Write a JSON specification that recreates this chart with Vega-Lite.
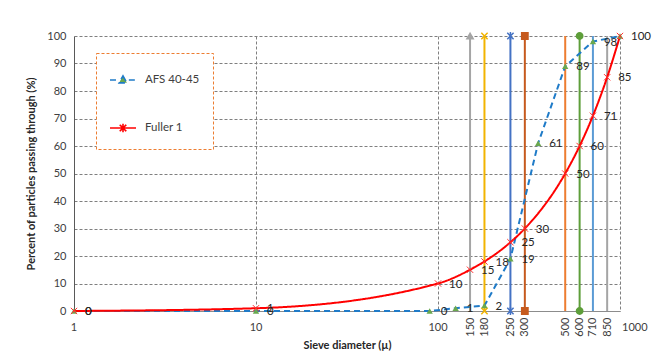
{
  "$schema": "https://vega.github.io/schema/vega-lite/v6.json",
  "width": 546,
  "height": 275,
  "autosize": {"type": "none"},
  "padding": {"left": 74, "top": 36, "right": 32, "bottom": 47},
  "background": "white",
  "config": {
    "font": "Lato",
    "view": {"stroke": null},
    "axis": {"labelFontSize": 11, "labelColor": "#404040", "titleColor": "#262626", "titleFontSize": 11, "titleFontWeight": "bold", "ticks": false},
    "legend": {
      "orient": "none", "legendX": 22, "legendY": 17, "padding": 13,
      "strokeColor": "#ED7D31", "fillColor": "white",
      "rowPadding": 27, "symbolSize": 676, "symbolStrokeWidth": 2,
      "labelFontSize": 11.5, "labelColor": "#404040", "labelOffset": 8
    }
  },
  "datasets": {
    "curves": [
      {"series": "AFS 40-45", "d": 1, "p": 0},
      {"series": "AFS 40-45", "d": 10, "p": 0},
      {"series": "AFS 40-45", "d": 90, "p": 0},
      {"series": "AFS 40-45", "d": 125, "p": 1},
      {"series": "AFS 40-45", "d": 180, "p": 2},
      {"series": "AFS 40-45", "d": 250, "p": 19},
      {"series": "AFS 40-45", "d": 355, "p": 61},
      {"series": "AFS 40-45", "d": 500, "p": 89},
      {"series": "AFS 40-45", "d": 710, "p": 98},
      {"series": "AFS 40-45", "d": 1000, "p": 100},
      {"series": "Fuller 1", "d": 1, "p": 0},
      {"series": "Fuller 1", "d": 10, "p": 1},
      {"series": "Fuller 1", "d": 100, "p": 10},
      {"series": "Fuller 1", "d": 150, "p": 15},
      {"series": "Fuller 1", "d": 180, "p": 18},
      {"series": "Fuller 1", "d": 250, "p": 25},
      {"series": "Fuller 1", "d": 300, "p": 30},
      {"series": "Fuller 1", "d": 500, "p": 50},
      {"series": "Fuller 1", "d": 600, "p": 60},
      {"series": "Fuller 1", "d": 710, "p": 71},
      {"series": "Fuller 1", "d": 850, "p": 85},
      {"series": "Fuller 1", "d": 1000, "p": 100}
    ],
    "sieves": [
      {"d": 150, "lo": 0, "hi": 100},
      {"d": 180, "lo": 0, "hi": 100},
      {"d": 250, "lo": 0, "hi": 100},
      {"d": 300, "lo": 0, "hi": 100},
      {"d": 500, "lo": 0, "hi": 100},
      {"d": 600, "lo": 0, "hi": 100},
      {"d": 710, "lo": 0, "hi": 100},
      {"d": 850, "lo": 0, "hi": 100}
    ],
    "sieveMarks": [
      {"d": 150, "p": 100},
      {"d": 180, "p": 100},
      {"d": 180, "p": 0},
      {"d": 250, "p": 100},
      {"d": 250, "p": 0},
      {"d": 300, "p": 100},
      {"d": 300, "p": 0},
      {"d": 600, "p": 100},
      {"d": 600, "p": 0}
    ],
    "decades": [
      {"d": 1, "p": 0},
      {"d": 10, "p": 0},
      {"d": 100, "p": 0}
    ],
    "lastDecade": [
      {"d": 1000, "p": 0}
    ]
  },
  "encoding": {
    "x": {"field": "d", "type": "quantitative",
      "scale": {"type": "log", "domain": [1, 1000], "nice": false},
      "axis": {"orient": "bottom", "values": [1, 10, 100, 150, 180, 250, 300, 500, 600, 710, 850, 1000],
        "labelExpr": "indexof([1, 10, 100, 1000], datum.value) >= 0 ? '' : datum.label",
        "labelAngle": -90, "labelAlign": "right", "labelBaseline": "middle", "labelPadding": 6,
        "grid": true, "gridDash": [3, 2], "gridColor": "#7F7F7F",
        "gridOpacity": {"condition": {"test": "indexof([10, 100, 1000], datum.value) >= 0", "value": 1}, "value": 0},
        "domain": true, "domainColor": "#8C8C8C", "format": "d",
        "title": "Sieve diameter (µ)", "titlePadding": 3}},
    "y": {"field": "p", "type": "quantitative",
      "scale": {"domain": [0, 100], "nice": false},
      "axis": {"values": [0, 10, 20, 30, 40, 50, 60, 70, 80, 90, 100], "grid": true, "gridDash": [3, 2], "gridColor": "#7F7F7F",
        "domainColor": "#595959", "labelPadding": 8, "titlePadding": 10,
        "title": "Percent of particles passing through (%)"}}
  },
  "layer": [
    {
      "data": {"name": "sieves"},
      "mark": {"type": "rule", "strokeWidth": 2},
      "encoding": {
        "y": {"field": "lo", "type": "quantitative"},
        "y2": {"field": "hi"},
        "stroke": {"field": "d", "type": "ordinal", "legend": null,
          "scale": {"domain": [150, 180, 250, 300, 500, 600, 710, 850],
            "range": ["#A5A5A5", "#F2B400", "#4472C4", "#C65A1E", "#ED7D31", "#5E9E3A", "#5B9BD5", "#A5A5A5"]}}
      }
    },
    {
      "data": {"name": "sieveMarks"},
      "mark": {"type": "point", "filled": true, "size": 40, "strokeWidth": 1.5, "opacity": 1},
      "encoding": {
        "shape": {"field": "d", "type": "ordinal", "legend": null,
          "scale": {"domain": [150, 180, 250, 300, 600],
            "range": ["triangle-up", "M-1,-1L1,1M-1,1L1,-1", "M-1,-1L1,1M-1,1L1,-1M0,-1.3V1.3", "square", "circle"]}},
        "fill": {"field": "d", "type": "ordinal", "legend": null,
          "scale": {"domain": [150, 180, 250, 300, 500, 600, 710, 850],
            "range": ["#A5A5A5", "#F2B400", "#4472C4", "#C65A1E", "#ED7D31", "#5E9E3A", "#5B9BD5", "#A5A5A5"]}},
        "stroke": {"field": "d", "type": "ordinal", "legend": null}
      }
    },
    {
      "data": {"name": "decades"},
      "mark": {"type": "text", "align": "center", "baseline": "top", "dy": 11, "fontSize": 11, "color": "#404040"},
      "encoding": {"text": {"field": "d", "type": "quantitative"}}
    },
    {
      "data": {"name": "lastDecade"},
      "mark": {"type": "text", "align": "left", "baseline": "top", "dy": 11, "dx": 2, "fontSize": 11, "color": "#404040"},
      "encoding": {"text": {"field": "d", "type": "quantitative"}}
    },
    {
      "data": {"name": "curves"},
      "transform": [{"filter": "datum.series === 'AFS 40-45'"}],
      "mark": {"type": "line", "strokeWidth": 2, "interpolate": "linear"},
      "encoding": {
        "color": {"field": "series", "type": "nominal",
          "scale": {"domain": ["AFS 40-45", "Fuller 1"], "range": ["#1F7BC8", "#FF0000"]},
          "legend": {"title": null, "symbolType": "stroke",
            "labelExpr": "datum.label + '\u00a0\u00a0\u00a0\u00a0\u00a0\u00a0'",
            "encoding": {
              "legend": {"strokeDash": {"value": [3, 2]}},
              "symbols": {
                "shape": {"value": {"expr": "datum.value === 'AFS 40-45' ? 'M-1,0H-0.45M0.45,0H1M0,-0.32L0.3,0.22L-0.3,0.22Z' : 'M-1,0H1M-0.25,-0.25L0.25,0.25M-0.25,0.25L0.25,-0.25M0,-0.32V0.32'"}},
                "fill": {"value": {"expr": "datum.value === 'AFS 40-45' ? '#6AA84F' : 'transparent'"}},
                "strokeDash": {"value": []},
                "strokeWidth": {"value": 1.6}
              }
            }}},
        "strokeDash": {"field": "series", "type": "nominal", "legend": null,
          "scale": {"domain": ["AFS 40-45", "Fuller 1"], "range": [[6, 4], [1, 0]]}}
      }
    },
    {
      "data": {"name": "curves"},
      "transform": [{"filter": "datum.series === 'Fuller 1'"}],
      "mark": {"type": "line", "strokeWidth": 2, "interpolate": "monotone"},
      "encoding": {
        "color": {"field": "series", "type": "nominal",
          "scale": {"domain": ["AFS 40-45", "Fuller 1"], "range": ["#1F7BC8", "#FF0000"]},
          "legend": {"title": null, "symbolType": "stroke",
            "labelExpr": "datum.label + '\u00a0\u00a0\u00a0\u00a0\u00a0\u00a0'",
            "encoding": {
              "legend": {"strokeDash": {"value": [3, 2]}},
              "symbols": {
                "shape": {"value": {"expr": "datum.value === 'AFS 40-45' ? 'M-1,0H-0.45M0.45,0H1M0,-0.32L0.3,0.22L-0.3,0.22Z' : 'M-1,0H1M-0.25,-0.25L0.25,0.25M-0.25,0.25L0.25,-0.25M0,-0.32V0.32'"}},
                "fill": {"value": {"expr": "datum.value === 'AFS 40-45' ? '#6AA84F' : 'transparent'"}},
                "strokeDash": {"value": []},
                "strokeWidth": {"value": 1.6}
              }
            }}},
        "strokeDash": {"field": "series", "type": "nominal", "legend": null,
          "scale": {"domain": ["AFS 40-45", "Fuller 1"], "range": [[6, 4], [1, 0]]}}
      }
    },
    {
      "data": {"name": "curves"},
      "transform": [{"filter": "datum.series === 'AFS 40-45'"}],
      "mark": {"type": "point", "shape": "triangle-up", "filled": true, "size": 40, "color": "#6AA84F", "opacity": 1}
    },
    {
      "data": {"name": "curves"},
      "transform": [{"filter": "datum.series === 'Fuller 1'"}],
      "mark": {"type": "point", "shape": "M-1,-1L1,1M-1,1L1,-1", "filled": false, "size": 40, "color": "#FF3030", "strokeWidth": 1, "opacity": 1}
    },
    {
      "data": {"name": "curves"},
      "transform": [{"filter": "!(datum.series === 'AFS 40-45' && datum.d === 1000)"}],
      "mark": {"type": "text", "align": "left", "baseline": "middle", "dx": 11, "dy": 1, "fontSize": 11.5, "color": "#262626"},
      "encoding": {
        "text": {"field": "p", "type": "quantitative"}
      }
    }
  ]
}
